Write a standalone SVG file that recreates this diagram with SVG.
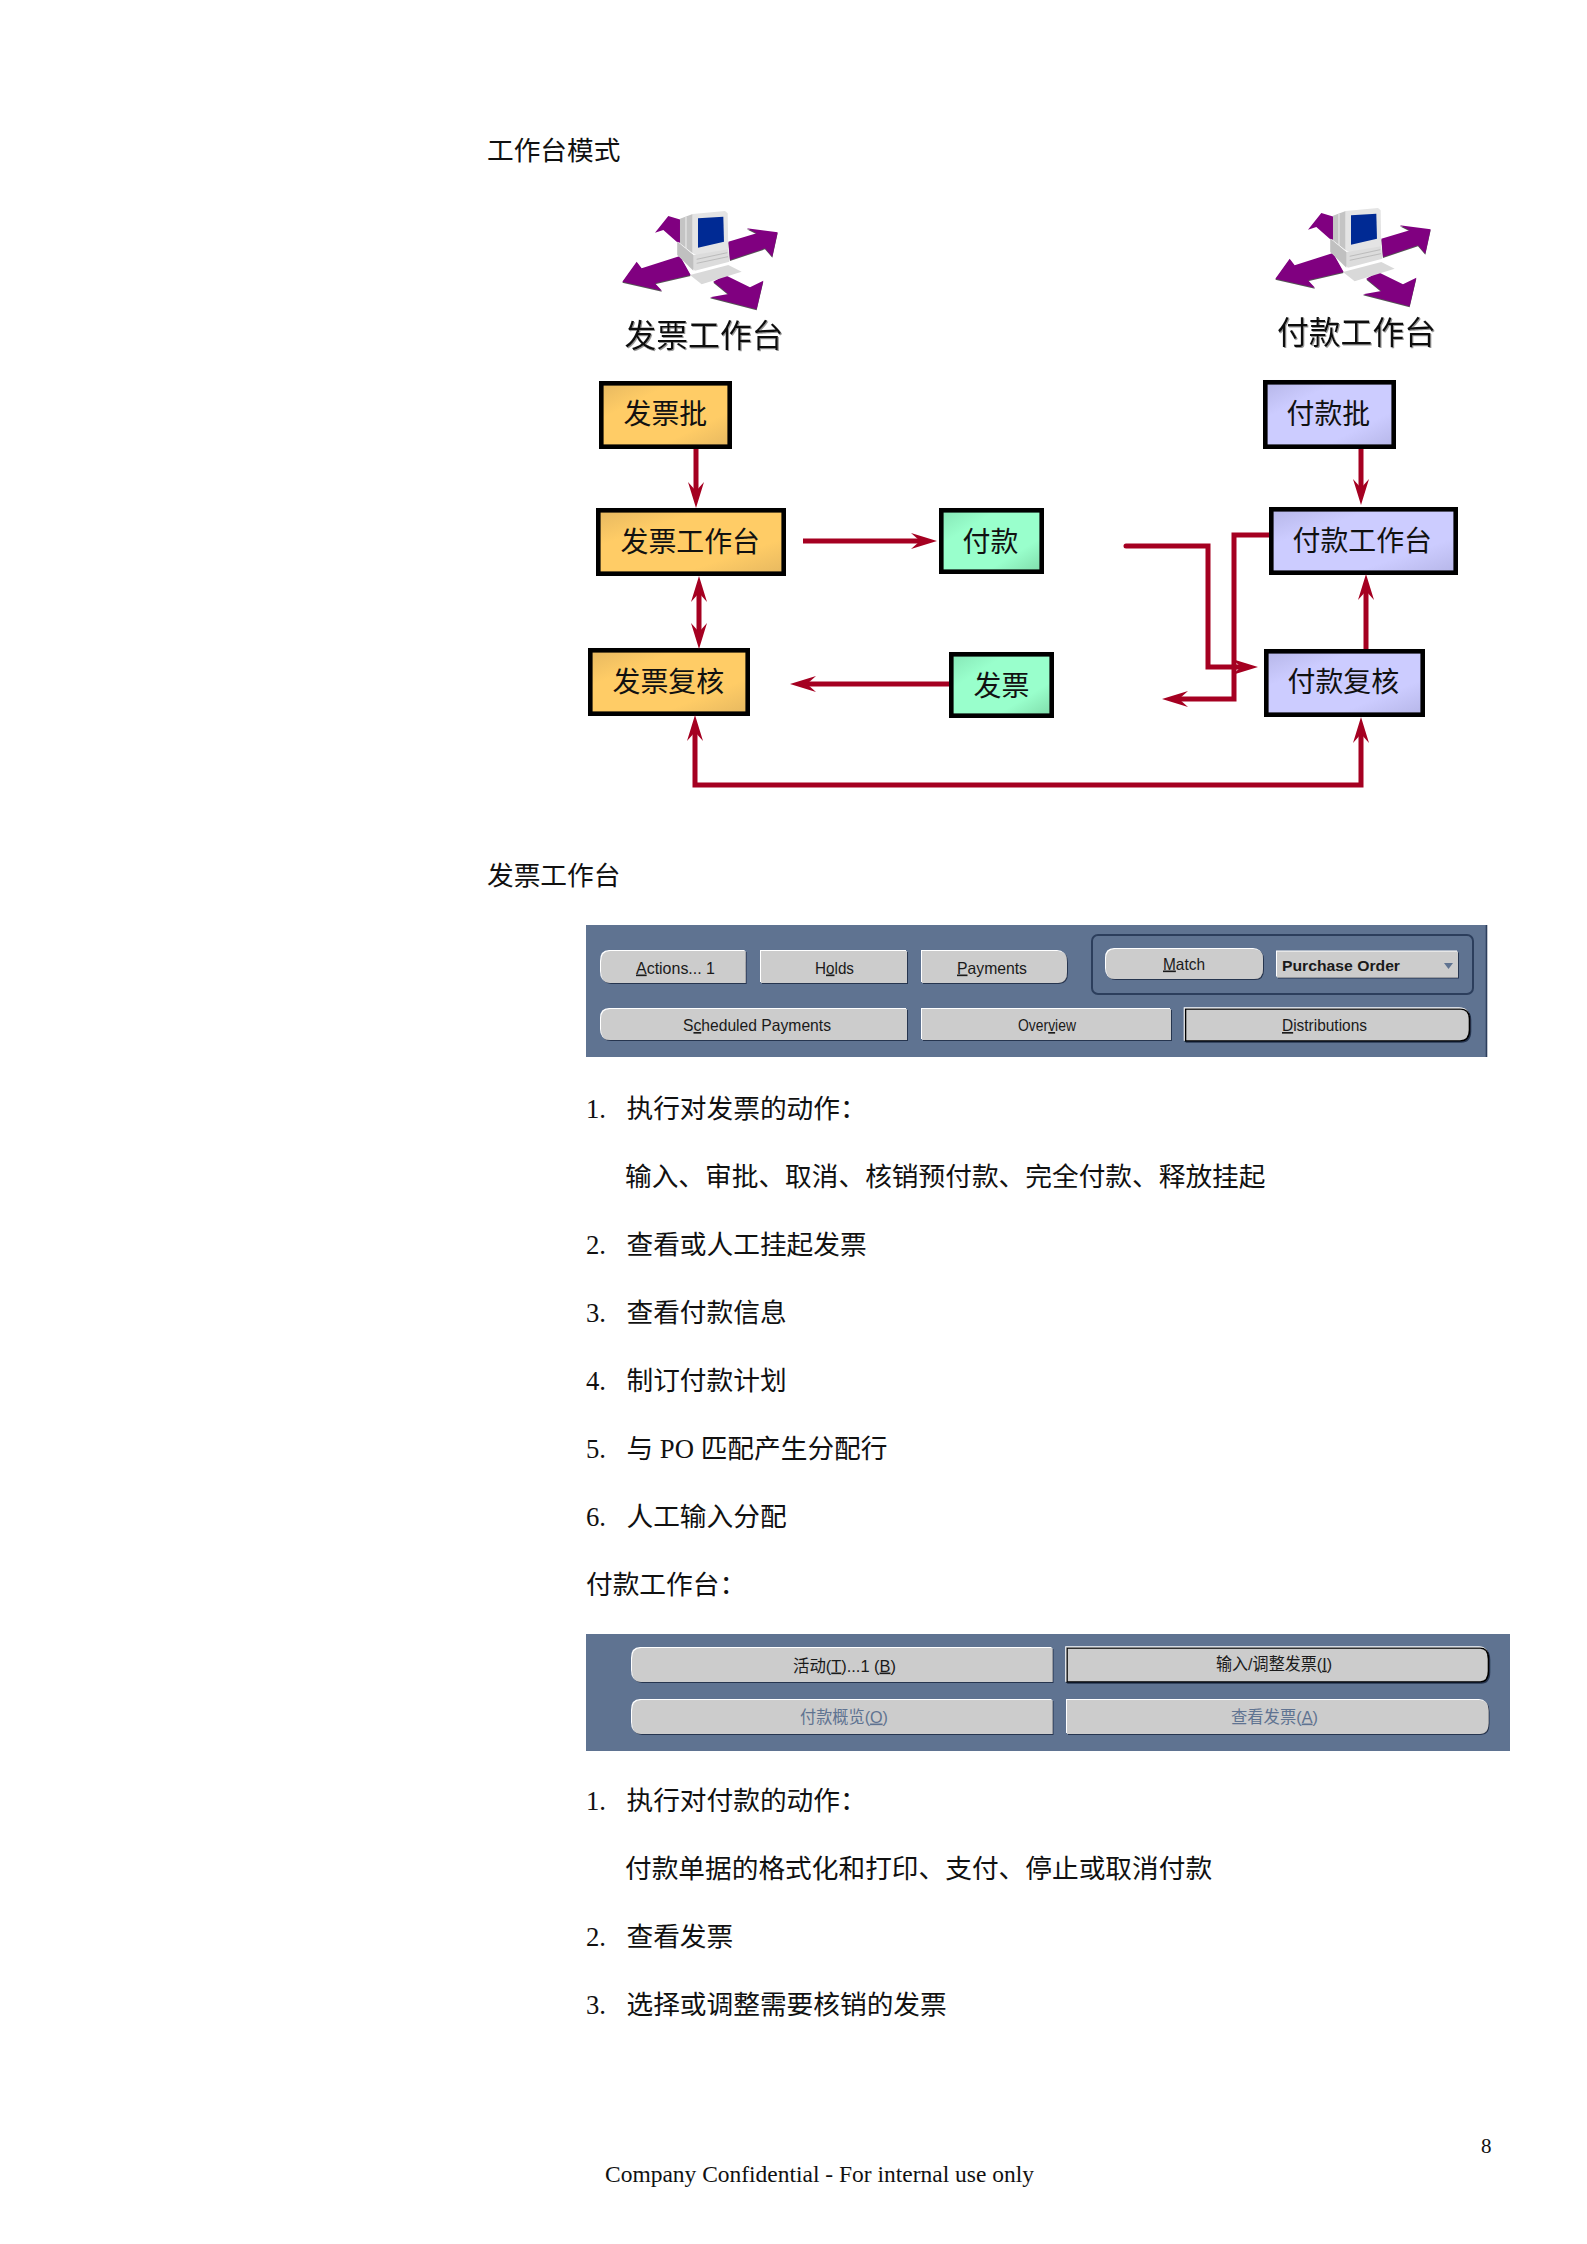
<svg xmlns="http://www.w3.org/2000/svg" xmlns:xlink="http://www.w3.org/1999/xlink" width="1587" height="2244" viewBox="0 0 1587 2244">
<style>
text{font-family:"Liberation Serif","Noto Sans CJK SC",serif;fill:#111}
.b{font-size:26.7px}
.n{font-size:27.9px;font-family:"Noto Sans CJK SC",sans-serif}
.h{font-size:31.8px;font-family:"Noto Sans CJK SC",sans-serif;filter:url(#ts)}
.box{stroke:#000;stroke-width:4.6}
.or{fill:url(#go)}.bl{fill:url(#gb)}.gr{fill:url(#gg)}
.c{fill:none;stroke:#a50021;stroke-width:5}
.ae{marker-end:url(#ah)}
.as{marker-start:url(#ahs)}
.panel{fill:#5f7391}
.btn{fill:#cccccc;filter:url(#bev)}
.def{stroke:#000;stroke-width:1.6}
.u{font-family:"Liberation Sans","Noto Sans CJK SC",sans-serif;font-size:16.5px;fill:#1a1a1a}
.dis{fill:#5f7391}
</style>
<defs>
<linearGradient id="go" x1="0" y1="0" x2="1" y2="1"><stop offset="0" stop-color="#e6b860"/><stop offset=".28" stop-color="#ffcc66"/><stop offset=".72" stop-color="#ffcc66"/><stop offset="1" stop-color="#e6b860"/></linearGradient>
<linearGradient id="gb" x1="0" y1="0" x2="1" y2="1"><stop offset="0" stop-color="#b6b6e8"/><stop offset=".28" stop-color="#ccccff"/><stop offset=".72" stop-color="#ccccff"/><stop offset="1" stop-color="#b6b6e8"/></linearGradient>
<linearGradient id="gg" x1="0" y1="0" x2="1" y2="1"><stop offset="0" stop-color="#86e6b6"/><stop offset=".28" stop-color="#99ffcc"/><stop offset=".72" stop-color="#99ffcc"/><stop offset="1" stop-color="#7fdcaa"/></linearGradient>
<marker id="ah" markerUnits="userSpaceOnUse" markerWidth="26" markerHeight="18" refX="14" refY="9" orient="auto"><path d="M26 9L0 1L9 9L0 17Z" fill="#a50021"/></marker>
<marker id="ahs" markerUnits="userSpaceOnUse" markerWidth="26" markerHeight="18" refX="12" refY="9" orient="auto"><path d="M0 9L26 1L17 9L26 17Z" fill="#a50021"/></marker>
<filter id="bev" x="-5%" y="-15%" width="110%" height="130%">
<feFlood flood-color="#ffffff" result="w"/><feComposite in="w" in2="SourceAlpha" operator="in"/><feOffset dx="-.6" dy="-1.2" result="l"/>
<feFlood flood-color="#26344f" result="k"/><feComposite in="k" in2="SourceAlpha" operator="in"/><feOffset dx=".6" dy="1.2" result="d"/>
<feMerge><feMergeNode in="d"/><feMergeNode in="l"/><feMergeNode in="SourceGraphic"/></feMerge>
</filter>
<filter id="ts" x="-5%" y="-5%" width="110%" height="115%"><feDropShadow dx="1" dy="1" stdDeviation=".4" flood-color="#999"/></filter>
<g id="pc">
<path d="M67 248L110 188L125 208L240 171L272 228L165 253L186 275Z" fill="#555"/>
<path d="M385 128L470 103L440 88L533 100L517 173L495 148L390 183Z" fill="#555"/>
<path d="M340 248L375 228L450 265L490 245L470 331L330 295L385 285Z" fill="#555"/>
<path d="M67 245L110 185L125 205L240 168L272 225L165 250L186 272Z" fill="#800080"/>
<path d="M165 98L205 48L245 60V130L230 125L190 90Z" fill="#800080"/>
<path d="M385 125L470 100L440 85L533 97L517 170L495 145L390 180Z" fill="#800080"/>
<path d="M340 245L375 225L450 262L490 242L470 328L330 292L385 282Z" fill="#800080"/>
<path d="M240 56L278 42V160L240 130Z" fill="#c4c4c4"/>
<path d="M258 50V146" stroke="#eee" stroke-width="3" fill="none"/>
<path d="M278 42L375 33L383 40L385 150L290 165L278 160Z" fill="#e4e4e4"/>
<path d="M294 55L370 50L372 125L294 143Z" fill="#002a94"/>
<path d="M232 125L280 165L385 148L388 185L285 212L232 165Z" fill="#dcdcdc"/>
<path d="M232 125L280 165V212L232 165Z" fill="#c0c0c0"/>
<path d="M290 178L382 158M290 190L384 170" stroke="#aaa" stroke-width="2" fill="none"/>
<path d="M270 225L385 195L425 215L305 253Z" fill="#d9d9d9"/>
</g>
</defs>
<rect width="1587" height="2244" fill="#fff"/>

<g id="page-text">
<text class="b" x="487" y="160">工作台模式</text>
<text class="b" x="487" y="884.5">发票工作台</text>
<text class="b" x="586" y="1117.5">1.</text><text class="b" x="626.5" y="1117.5">执行对发票的动作：</text>
<text class="b" x="625" y="1185.5">输入、审批、取消、核销预付款、完全付款、释放挂起</text>
<text class="b" x="586" y="1253.5">2.</text><text class="b" x="626.5" y="1253.5">查看或人工挂起发票</text>
<text class="b" x="586" y="1321.5">3.</text><text class="b" x="626.5" y="1321.5">查看付款信息</text>
<text class="b" x="586" y="1389.5">4.</text><text class="b" x="626.5" y="1389.5">制订付款计划</text>
<text class="b" x="586" y="1457.5">5.</text><text class="b" x="626.5" y="1457.5">与 PO 匹配产生分配行</text>
<text class="b" x="586" y="1525.5">6.</text><text class="b" x="626.5" y="1525.5">人工输入分配</text>
<text class="b" x="586" y="1593.5">付款工作台：</text>
<text class="b" x="586" y="1810">1.</text><text class="b" x="626.5" y="1810">执行对付款的动作：</text>
<text class="b" x="625" y="1878">付款单据的格式化和打印、支付、停止或取消付款</text>
<text class="b" x="586" y="1946">2.</text><text class="b" x="626.5" y="1946">查看发票</text>
<text class="b" x="586" y="2014">3.</text><text class="b" x="626.5" y="2014">选择或调整需要核销的发票</text>
<text x="1481" y="2153" font-size="21">8</text>
<text x="605" y="2181.5" font-size="23" textLength="429" lengthAdjust="spacingAndGlyphs">Company Confidential - For internal use only</text>
</g>

<g id="icon-invoice"><use href="#pc" xlink:href="#pc" transform="translate(600 200) scale(.3333)"/><text class="h" x="624.5" y="346.5">发票工作台</text></g>
<g id="icon-payment"><use href="#pc" xlink:href="#pc" transform="translate(1253 197) scale(.3333)"/><text class="h" x="1277" y="343.5">付款工作台</text></g>

<g id="inv-batch"><rect class="box or" x="601.3" y="383.3" width="128.4" height="63.4"/><text class="n" x="623.5" y="424">发票批</text></g>
<g id="inv-wb"><rect class="box or" x="598.3" y="510.3" width="185.4" height="63.4"/><text class="n" x="620.5" y="551.5">发票工作台</text></g>
<g id="inv-review"><rect class="box or" x="590.3" y="650.3" width="157.4" height="63.4"/><text class="n" x="612.5" y="692">发票复核</text></g>
<g id="pay-green"><rect class="box gr" x="941.3" y="510.3" width="100.4" height="61.4"/><text class="n" x="962.5" y="551.5">付款</text></g>
<g id="inv-green"><rect class="box gr" x="951.3" y="654.3" width="100.4" height="61.4"/><text class="n" x="973.5" y="695.5">发票</text></g>
<g id="pay-batch"><rect class="box bl" x="1265.3" y="382.3" width="128.4" height="64.4"/><text class="n" x="1286.5" y="424">付款批</text></g>
<g id="pay-wb"><rect class="box bl" x="1271.3" y="509.3" width="184.4" height="63.4"/><text class="n" x="1292.5" y="550.5">付款工作台</text></g>
<g id="pay-review"><rect class="box bl" x="1266.3" y="651.3" width="156.4" height="63.4"/><text class="n" x="1287.5" y="692">付款复核</text></g>

<g id="connectors">
<path class="c ae" d="M696 449V496"/>
<path class="c ae as" d="M699 588V637"/>
<path class="c ae" d="M803 541H925"/>
<path class="c ae" d="M949 684H802"/>
<path class="c as ae" d="M1361 729V785H695V727"/>
<path class="c ae" d="M1361 449V493"/>
<path class="c ae" d="M1366 649V586"/>
<path class="c ae" d="M1126 546H1208V667H1246" stroke-linecap="round"/>
<path class="c ae" d="M1269 535H1234V699H1174"/>
</g>

<g id="panel-invoice">
<rect class="panel" x="586" y="925" width="901" height="132"/>
<path d="M1486.5 925V1057" stroke="#2c3e5c" stroke-width="1.6"/>
<rect x="1092" y="935" width="381" height="59" rx="6" fill="none" stroke="#2c3e5c" stroke-width="2"/>
<path class="btn" d="M610 951H745.6V983H610Q601 983 601 972V962Q601 951 610 951Z"/>
<rect class="btn" x="761" y="951" width="146" height="32"/>
<path class="btn" d="M922 951H1058Q1067 951 1067 962V972Q1067 983 1058 983H922Z"/>
<path class="btn" d="M1115 949H1254Q1263 949 1263 959V969Q1263 979 1254 979H1115Q1106 979 1106 969V959Q1106 949 1115 949Z"/>
<rect class="btn" x="1277" y="951.5" width="181" height="26"/>
<path d="M1444 963h9l-4.500 6z" fill="#5f7391"/>
<path class="btn" d="M610 1009H907V1040H610Q601 1040 601 1030V1019Q601 1009 610 1009Z"/>
<rect class="btn" x="922" y="1009" width="249" height="31"/>
<path class="btn def" d="M1185.500 1009H1460Q1469.500 1009 1469.500 1019V1030Q1469.500 1041 1460 1041H1185.500Z"/>
<text class="u" x="636" y="973.5" textLength="79" lengthAdjust="spacingAndGlyphs"><tspan text-decoration="underline">A</tspan>ctions... 1</text>
<text class="u" x="815" y="973.5" textLength="39" lengthAdjust="spacingAndGlyphs">H<tspan text-decoration="underline">o</tspan>lds</text>
<text class="u" x="957" y="973.5" textLength="70" lengthAdjust="spacingAndGlyphs"><tspan text-decoration="underline">P</tspan>ayments</text>
<text class="u" x="1163" y="969.5" textLength="42" lengthAdjust="spacingAndGlyphs"><tspan text-decoration="underline">M</tspan>atch</text>
<text class="u" x="1282" y="970.500" textLength="118" lengthAdjust="spacingAndGlyphs" font-weight="bold" style="font-size:15.500px">Purchase Order</text>
<text class="u" x="683" y="1031" textLength="148" lengthAdjust="spacingAndGlyphs">S<tspan text-decoration="underline">c</tspan>heduled Payments</text>
<text class="u" x="1018" y="1031" textLength="58" lengthAdjust="spacingAndGlyphs">Over<tspan text-decoration="underline">v</tspan>iew</text>
<text class="u" x="1282" y="1031" textLength="85" lengthAdjust="spacingAndGlyphs"><tspan text-decoration="underline">D</tspan>istributions</text>
</g>

<g id="panel-payment">
<rect class="panel" x="586" y="1634" width="924" height="117"/>
<path class="btn" d="M641 1648H1052.500V1682H641Q632 1682 632 1671V1659Q632 1648 641 1648Z"/>
<path class="btn def" d="M1067 1648H1480Q1488.500 1648 1488.500 1659V1671Q1488.500 1682 1480 1682H1067Z"/>
<path class="btn" d="M641 1700H1052.500V1734H641Q632 1734 632 1723V1711Q632 1700 641 1700Z"/>
<path class="btn" d="M1067 1700H1480Q1488.500 1700 1488.500 1711V1723Q1488.500 1734 1480 1734H1067Z"/>
<text class="u" x="793" y="1671.500" textLength="103" lengthAdjust="spacingAndGlyphs">活动(<tspan text-decoration="underline">T</tspan>)...1 (<tspan text-decoration="underline">B</tspan>)</text>
<text class="u" x="1216" y="1669.500" textLength="116" lengthAdjust="spacingAndGlyphs">输入/调整发票(<tspan text-decoration="underline">I</tspan>)</text>
<text class="u dis" x="800" y="1722.500" textLength="88" lengthAdjust="spacingAndGlyphs">付款概览(<tspan text-decoration="underline">O</tspan>)</text>
<text class="u dis" x="1231" y="1722.500" textLength="87" lengthAdjust="spacingAndGlyphs">查看发票(<tspan text-decoration="underline">A</tspan>)</text>
</g>
</svg>
